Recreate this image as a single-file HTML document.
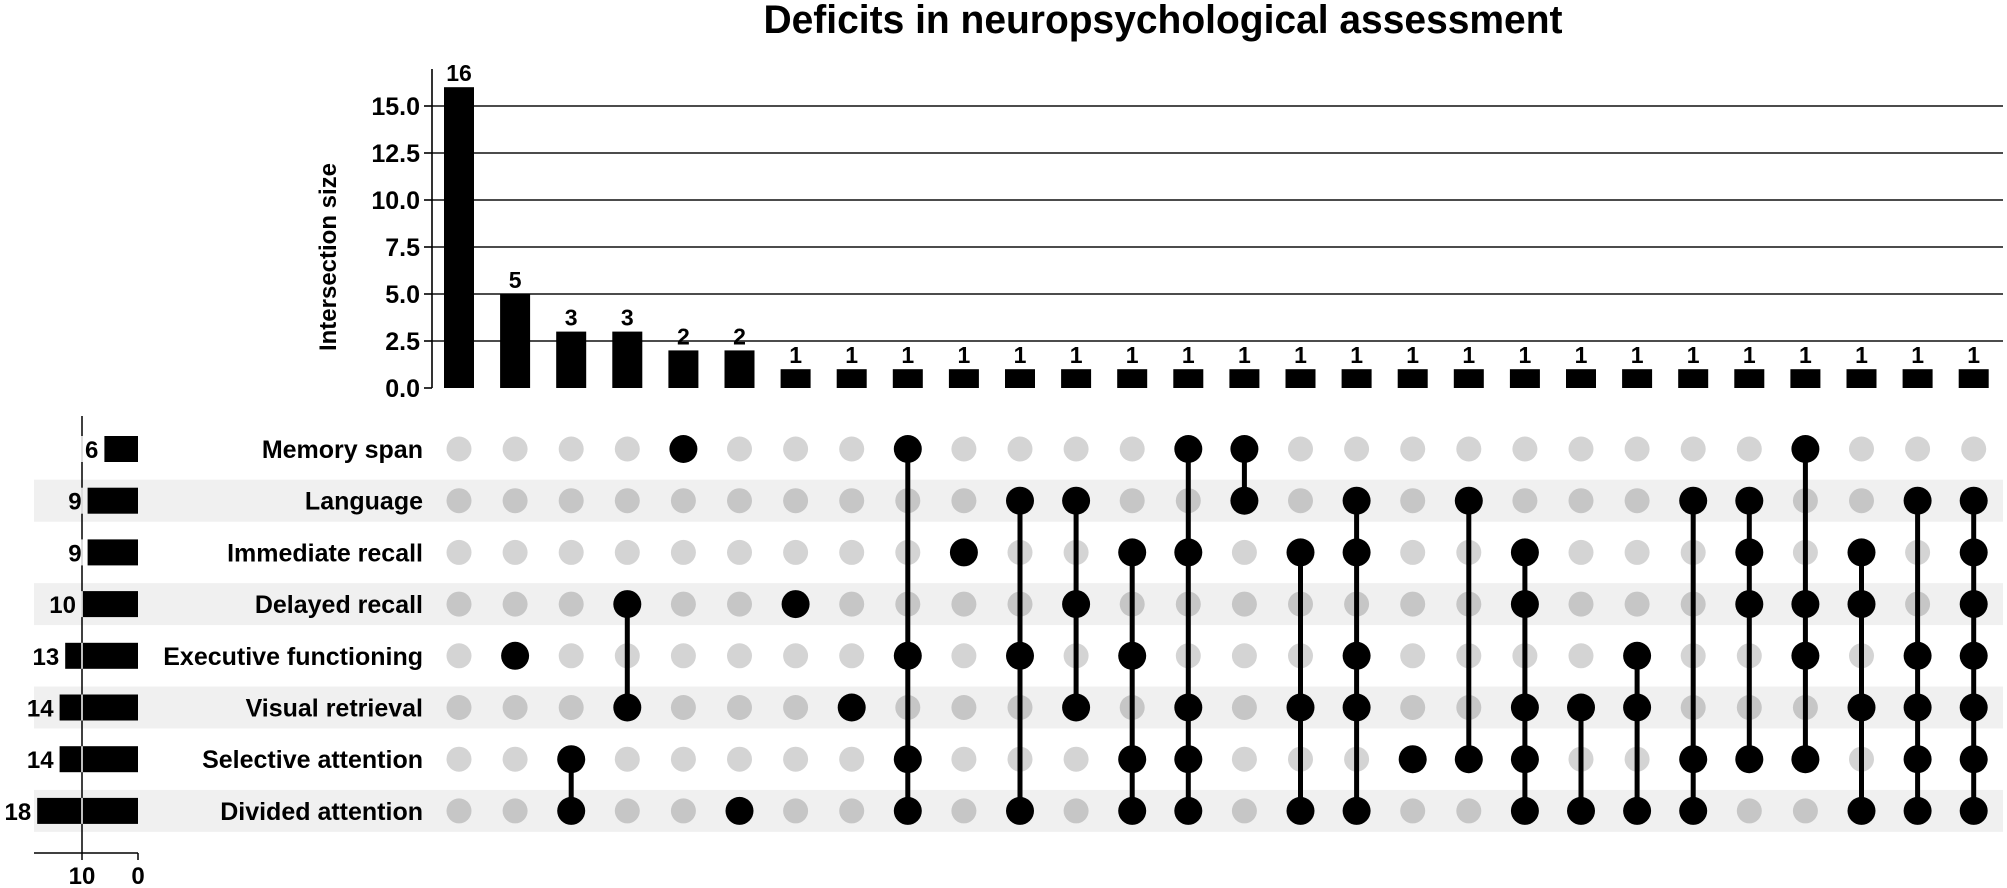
<!DOCTYPE html>
<html><head><meta charset="utf-8"><style>
html,body{margin:0;padding:0;background:#fff;}
svg{display:block;}
text{font-family:"Liberation Sans",Arial,sans-serif;font-weight:bold;fill:#000;}
</style></head><body>
<svg id="s" width="2007" height="888" viewBox="0 0 2007 888" xmlns="http://www.w3.org/2000/svg">
<text x="1163" y="33" font-size="40" text-anchor="middle" textLength="799" lengthAdjust="spacingAndGlyphs">Deficits in neuropsychological assessment</text>
<g id="topg"></g>
<g id="mat"></g>
</svg>
<script>
(function(){
const NS="http://www.w3.org/2000/svg";
function el(p,t,a,txt){const e=document.createElementNS(NS,t);for(const k in a)e.setAttribute(k,a[k]);if(txt!==undefined)e.textContent=txt;p.appendChild(e);return e;}
const topG=document.getElementById('topg'),mat=document.getElementById('mat');
const y0=388,pu=18.8,ax=432;
[2.5,5,7.5,10,12.5,15].forEach(v=>{const y=y0-v*pu;el(topG,'line',{x1:ax,x2:2003,y1:y,y2:y,stroke:'#111','stroke-width':1.6});});
[0,2.5,5,7.5,10,12.5,15].forEach(v=>{const y=y0-v*pu;el(topG,'line',{x1:424,x2:ax,y1:y,y2:y,stroke:'#000','stroke-width':1.6});
el(topG,'text',{x:420,y:y+9,'font-size':25,'text-anchor':'end'},v.toFixed(1));});
el(topG,'line',{x1:ax,x2:ax,y1:69,y2:y0,stroke:'#000','stroke-width':1.6});
el(topG,'text',{x:0,y:0,'font-size':24,'text-anchor':'middle',transform:'translate(336,257) rotate(-90)'},'Intersection size');
const sizes=[16,5,3,3,2,2].concat(Array(22).fill(1));
const cx=i=>459+56.1*i;
sizes.forEach((v,i)=>{const h=v*pu;el(topG,'rect',{x:cx(i)-15,y:y0-h,width:30,height:h,fill:'#000'});
el(topG,'text',{x:cx(i),y:y0-h-6,'font-size':23,'text-anchor':'middle'},v);});
const rows=['Memory span','Language','Immediate recall','Delayed recall','Executive functioning','Visual retrieval','Selective attention','Divided attention'];
const setS=[6,9,9,10,13,14,14,18];
const ry=k=>449+51.7*k;
rows.forEach((r,k)=>{if(k%2==1)el(mat,'rect',{x:34,y:ry(k)-21,width:1969,height:42,fill:'#f0f0f0'});});
rows.forEach((r,k)=>{const w=setS[k]*5.6;el(mat,'rect',{x:138-w,y:ry(k)-13,width:w,height:26,fill:'#000'});
el(mat,'text',{x:138-w-6,y:ry(k)+9,'font-size':24,'text-anchor':'end'},setS[k]);
el(mat,'text',{x:423,y:ry(k)+9,'font-size':25,'text-anchor':'end'},r);});
el(mat,'line',{x1:82,x2:82,y1:416,y2:853,stroke:'#000','stroke-width':1.5});
rows.forEach((r,k)=>{el(mat,'line',{x1:82,x2:82,y1:ry(k)-13,y2:ry(k)+13,stroke:'#fff','stroke-width':1.5});});
el(mat,'line',{x1:34,x2:138,y1:853,y2:853,stroke:'#000','stroke-width':1.5});
el(mat,'line',{x1:82,x2:82,y1:853,y2:860,stroke:'#000','stroke-width':1.5});
el(mat,'line',{x1:138,x2:138,y1:853,y2:860,stroke:'#000','stroke-width':1.5});
el(mat,'text',{x:82,y:884,'font-size':24,'text-anchor':'middle'},'10');
el(mat,'text',{x:138,y:884,'font-size':24,'text-anchor':'middle'},'0');
const sets=[[],[4],[6,7],[3,5],[0],[7],[3],[5],[0,4,6,7],[2],[1,4,7],[1,3,5],[2,4,6,7],[0,2,5,6,7],[0,1],[2,5,7],[1,2,4,5,7],[6],[1,6],[2,3,5,6,7],[5,7],[4,5,7],[1,6,7],[1,2,3,6],[0,3,4,6],[2,3,5,7],[1,4,5,6,7],[1,2,3,4,5,6,7]];
sets.forEach((s,i)=>{const x=cx(i);
rows.forEach((r,k)=>{if(!s.includes(k))el(mat,'circle',{cx:x,cy:ry(k),r:12.5,fill:k%2?'#c6c6c6':'#d4d4d4'});});
if(s.length>1)el(mat,'line',{x1:x,x2:x,y1:ry(Math.min(...s)),y2:ry(Math.max(...s)),stroke:'#000','stroke-width':5});
s.forEach(k=>el(mat,'circle',{cx:x,cy:ry(k),r:14,fill:'#000'}));});
})();
</script>
</body></html>
